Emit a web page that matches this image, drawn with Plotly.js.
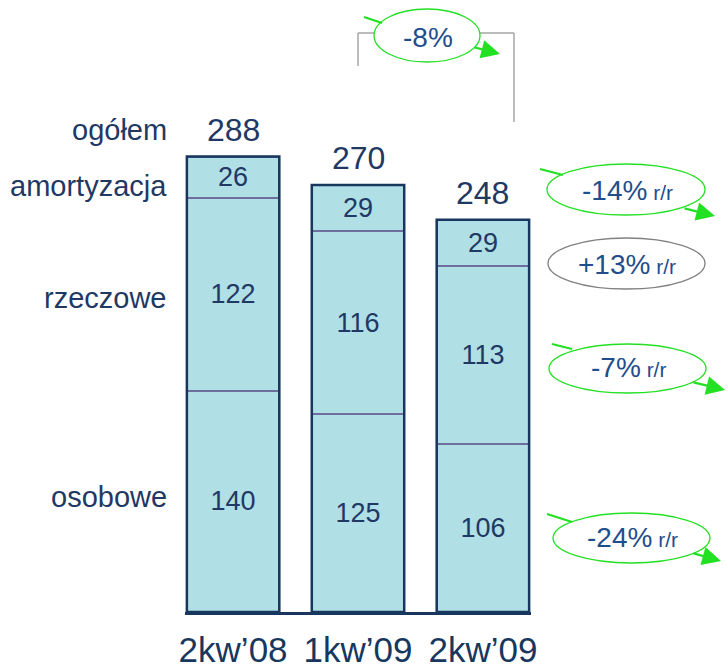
<!DOCTYPE html>
<html><head><meta charset="utf-8">
<script src="https://cdn.plot.ly/plotly-3.0.1.min.js"></script>
<style>html,body{margin:0;padding:0;background:#fff}#chart{width:727px;height:668px}</style>
</head><body><div id="chart"></div>
<script>
const categories = ["2kw’08", "1kw’09", "2kw’09"];
const osobowe = [140, 125, 106];
const rzeczowe = [122, 116, 113];
const amortyzacja = [26, 29, 29];
const ogolem = [288, 270, 248];
const seriesNames = ["osobowe", "rzeczowe", "amortyzacja", "ogółem"];
const changeLabels = ["-24%", "-7%", "+13%", "-14%"];
const totalChange = "-8%";

const NAVY = "#17375e", TXT = "#1f3864", BLUE = "#1f4e8c", FILL = "#b0dfe5", DIV = "#6e6e9e", GREEN = "#22e022";
const FAM = "Liberation Sans, Arial";
const L = 185, T = 0, PW = 346, PH = 612;
const fx = p => (p - L) / PW, fy = p => (T + PH - p) / PH;
const BW = 0.74;

function seg(y, name) {
  return {type: "bar", x: categories, y: y, name: name, width: BW,
    marker: {color: FILL, line: {color: DIV, width: 2}},
    text: y.map(String), textposition: "inside", insidetextanchor: "middle",
    textfont: {size: 27, color: TXT, family: FAM},
    hoverinfo: "skip", showlegend: false};
}
const data = [seg(osobowe, seriesNames[0]), seg(rzeczowe, seriesNames[1]), seg(amortyzacja, seriesNames[2])];

const shapes = [], annotations = [];
categories.forEach((c, i) => {
  shapes.push({type: "rect", xref: "x", yref: "y", x0: i - BW / 2, x1: i + BW / 2, y0: 0, y1: ogolem[i],
    line: {color: NAVY, width: 2.5}, fillcolor: "rgba(0,0,0,0)", layer: "above"});
  annotations.push({xref: "x", yref: "y", x: c, y: ogolem[i], yanchor: "bottom", yshift: 7, showarrow: false,
    text: String(ogolem[i]), font: {size: 32, color: TXT, family: FAM}});
});
const mids = [osobowe[0] / 2, osobowe[0] + rzeczowe[0] / 2, osobowe[0] + rzeczowe[0] + amortyzacja[0] / 2];
[[seriesNames[0], mids[0], 4], [seriesNames[1], mids[1], -4], [seriesNames[2], mids[2], -9], [seriesNames[3], ogolem[0], 9]].forEach(([t, y, ys], k) => {
  annotations.push({xref: "paper", yref: "y", x: 0, xshift: -16, xanchor: "right", y: y, yanchor: k === 3 ? "bottom" : "middle", yshift: ys,
    showarrow: false, text: t, font: {size: 29, color: TXT, family: FAM}});
});

function ellipse(x0, y0, x1, y1, col) {
  shapes.push({type: "circle", xref: "paper", yref: "paper", x0: fx(x0), x1: fx(x1), y0: fy(y1), y1: fy(y0),
    line: {color: col, width: 1.3}, fillcolor: "rgba(255,255,255,0)"});
}
function gline(x0, y0, x1, y1, col, w) {
  shapes.push({type: "line", xref: "paper", yref: "paper", x0: fx(x0), x1: fx(x1), y0: fy(y0), y1: fy(y1),
    line: {color: col, width: w}});
}
function arrow(tx, ty, hx, hy) {
  annotations.push({xref: "paper", yref: "paper", x: fx(hx), y: fy(hy), ax: tx - hx, ay: ty - hy, axref: "pixel", ayref: "pixel",
    showarrow: true, arrowhead: 2, arrowsize: 1.7, arrowwidth: 2.2, arrowcolor: GREEN, text: ""});
}
function label(cx, cy, main, small) {
  annotations.push({xref: "paper", yref: "paper", x: fx(cx), y: fy(cy), xanchor: "center", yanchor: "middle", showarrow: false,
    text: main + (small ? "<span style='font-size:21px'> " + small + "</span>" : ""),
    font: {size: 28, color: BLUE, family: FAM}});
}

gline(358, 33, 358, 66, "#a6a6a6", 1.5);
gline(358, 33, 375, 33, "#a6a6a6", 1.5);
gline(479, 33, 514, 33, "#a6a6a6", 1.5);
gline(514, 33, 514, 122, "#a6a6a6", 1.5);
ellipse(374, 9, 480, 62, GREEN);
gline(364, 17, 382, 23, GREEN, 2.2);
arrow(473, 47, 500, 54);
label(428, 37, totalChange, "");

ellipse(547, 164, 705, 215, GREEN);
gline(540, 169, 563, 175, GREEN, 2.2);
arrow(683, 208, 715, 216);
label(627, 190, changeLabels[3], "r/r");
ellipse(548, 238, 705, 289, "#808080");
label(627, 264, changeLabels[2], "r/r");
ellipse(549, 344, 706, 393, GREEN);
gline(552, 344, 572, 349, GREEN, 2.2);
arrow(692, 382, 725, 390);
label(628, 367, changeLabels[1], "r/r");
ellipse(553, 513, 710, 563, GREEN);
gline(547, 514, 572, 522, GREEN, 2.2);
arrow(692, 553, 721, 561);
label(632, 537, changeLabels[0], "r/r");

const layout = {
  width: 727, height: 668, barmode: "stack", bargap: 0,
  margin: {l: L, r: 727 - L - PW, t: T, b: 668 - PH},
  paper_bgcolor: "#fff", plot_bgcolor: "#fff",
  font: {family: FAM, color: TXT},
  xaxis: {type: "category", range: [-0.385, 2.385], showline: true, linecolor: NAVY, linewidth: 3,
    ticks: "outside", ticklen: 5, tickcolor: "rgba(0,0,0,0)", showgrid: false, zeroline: false,
    tickfont: {size: 35, color: NAVY, family: FAM}},
  yaxis: {range: [0, 387], visible: false, showgrid: false, zeroline: false},
  shapes: shapes, annotations: annotations, showlegend: false
};
Plotly.newPlot("chart", data, layout, {displayModeBar: false, staticPlot: true});
</script></body></html>
